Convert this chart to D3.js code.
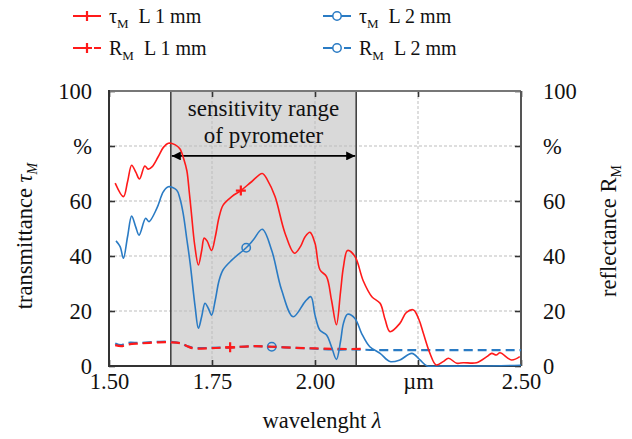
<!DOCTYPE html>
<html>
<head>
<meta charset="utf-8">
<script src="https://cdn.jsdelivr.net/npm/d3@7"></script>
<style>
body{margin:0;background:#fff;}
svg{display:block;}
svg text{font-family:"Liberation Serif",Tinos,"Times New Roman",Times,"DejaVu Serif",serif;}
</style>
</head>
<body>
<svg id="chart"></svg>
<script>
// transmittance, sample L = 1 mm (red)
var tauL1Wave = [1.515,1.535,1.545,1.555,1.565,1.574,1.587,1.595,1.605,1.619,1.632,1.644,1.66,1.672,1.682,1.689,1.695,1.70,1.708,1.717,1.725,1.731,1.738,1.749,1.758,1.767,1.777,1.798,1.82,1.846,1.872,1.885,1.903,1.927,1.95,1.965,1.976,1.988,2.0,2.012,2.028,2.04,2.052,2.062,2.069,2.079,2.097,2.117,2.138,2.158,2.17,2.182,2.206,2.222,2.239,2.252,2.263,2.279,2.294,2.311,2.324,2.344,2.36,2.392,2.417,2.429,2.44,2.449,2.477,2.497];
var tauL1 = [66.5,61.6,67,73,70.5,68,72.7,71.6,72.5,76,79.5,81,80.5,79,75,71,63,55.6,44,36.7,42,46.5,45.5,42,47,54,58.5,61.6,63.8,67,70,67.5,61.6,48.4,41,43.5,47,48.6,44.6,35,32.5,24,15,27,36,42,39.8,31,25.2,22.8,17,12.5,15.5,19.5,20.4,17,11.9,4.6,0.4,1.6,2.8,1,1.2,1.2,3.4,4.6,4,4.8,2.2,3.4];

// transmittance, sample L = 2 mm (blue)
var tauL2Wave = [1.517,1.527,1.535,1.545,1.555,1.565,1.573,1.589,1.597,1.616,1.632,1.644,1.664,1.672,1.68,1.689,1.697,1.709,1.717,1.725,1.733,1.741,1.749,1.758,1.767,1.777,1.798,1.833,1.85,1.872,1.895,1.919,1.947,1.976,1.99,2.0,2.012,2.028,2.04,2.052,2.062,2.069,2.079,2.097,2.113,2.133,2.158,2.182,2.206,2.235,2.255,2.271,2.30,2.40,2.50];
var tauL2 = [45.5,43.4,39.2,47,54.5,50.5,47.6,53.7,52.5,57.3,63.4,65.2,64,61,55.5,46,37.3,21.6,13.7,18,22.8,21,18.5,24,31,35,38.5,43,45.8,49.7,42,27.6,17.9,23.4,25.2,18.5,13,11.3,7,2.4,9,15.5,18.8,17.3,11.9,7,4.6,1.6,2.2,4.6,2.2,0.1,0,0,0.3];

// reflectance
var refL1Wave = [1.515,1.53,1.545,1.575,1.62,1.65,1.675,1.69,1.705,1.75,1.794,1.85,1.895,1.95,2.0,2.05,2.12];
var refL1 = [7.6,7.2,7.8,8.2,8.6,8.6,8.2,7.2,6.4,6.5,6.8,7.2,7.0,6.6,6.4,6.2,6.2];
var refL2Wave = [1.515,1.53,1.545,1.575,1.62,1.65,1.675,1.69,1.705,1.75,1.8,1.85,1.895,1.95,2.0,2.05,2.10,2.15,2.50];
var refL2 = [8.2,7.6,8.4,8.4,8.8,8.8,8.2,7.2,6.6,6.6,6.8,7.2,7.0,6.6,6.3,6.0,6.0,5.8,5.8];

var xTicks = [1.50,1.75,2.00,2.25,2.50];
var xTickLabels = ["1.50","1.75","2.00","\u00b5m","2.50"];
var yTicks = [0,20,40,60,80,100];
var yTickLabels = ["0","20","40","60","%","100"];

var sensRange = [1.65,2.10];
var arrowLevel = 76.4;

var red = "#ff1a1a", blue = "#2a7bc4";
var serif = "'Liberation Serif',Tinos,'Times New Roman',Times,'DejaVu Serif',serif";

var series = [
    {wave:refL2Wave, val:refL2, color:blue, dash:"9,5", marker:"o", markAt:1.895},
    {wave:refL1Wave, val:refL1, color:red, dash:"9,5", marker:"+", markAt:1.794},
    {wave:tauL2Wave, val:tauL2, color:blue, dash:null, marker:"o", markAt:1.833},
    {wave:tauL1Wave, val:tauL1, color:red, dash:null, marker:"+", markAt:1.82}
];

var screen = {width:632, height:439};
var margin = {left:109, right:111, top:91, bottom:73};

var svg = d3.select("#chart")
    .attr("width", screen.width)
    .attr("height", screen.height)
    .attr("font-family", serif);

var xScale = d3.scaleLinear()
    .domain([1.5,2.5])
    .range([margin.left, screen.width - margin.right]);

var yScale = d3.scaleLinear()
    .domain([0,100])
    .range([screen.height - margin.bottom, margin.top]);

var x0 = xScale.range()[0], x1 = xScale.range()[1];
var yb = yScale.range()[0], yt = yScale.range()[1];

// grey band of pyrometer sensitivity
svg.append("rect")
    .attr("x", xScale(sensRange[0]))
    .attr("y", yt)
    .attr("width", xScale(sensRange[1]) - xScale(sensRange[0]))
    .attr("height", yb - yt)
    .attr("fill", "#d9d9d9");

// grid
svg.append("g").selectAll("line")
    .data(yTicks.slice(1, -1))
    .enter().append("line")
    .attr("x1", x0).attr("x2", x1)
    .attr("y1", function(d){ return yScale(d); })
    .attr("y2", function(d){ return yScale(d); })
    .attr("stroke", "#bdbdbd").attr("stroke-width", 1)
    .attr("stroke-dasharray", "3,2");

svg.append("g").selectAll("line")
    .data(xTicks.slice(1, -1))
    .enter().append("line")
    .attr("y1", yt).attr("y2", yb)
    .attr("x1", function(d){ return xScale(d); })
    .attr("x2", function(d){ return xScale(d); })
    .attr("stroke", "#bdbdbd").attr("stroke-width", 1)
    .attr("stroke-dasharray", "3,2");

// band edges
svg.append("g").selectAll("line")
    .data(sensRange)
    .enter().append("line")
    .attr("y1", yt).attr("y2", yb)
    .attr("x1", function(d){ return xScale(d); })
    .attr("x2", function(d){ return xScale(d); })
    .attr("stroke", "#444").attr("stroke-width", 1.6);

// axes
var fmtY = function(d){ return yTickLabels[yTicks.indexOf(d)]; };
var fmtX = function(d){ return xTickLabels[xTicks.indexOf(d)]; };

var styleAxis = function(g){
    g.attr("font-family", serif).attr("font-size", 22.5);
    g.select(".domain").remove();
    g.selectAll(".tick line").attr("stroke", "#333").attr("stroke-width", 1.6);
    g.selectAll(".tick text").attr("fill", "#111");
};

svg.append("g")
    .attr("transform", "translate(" + x0 + ",0)")
    .call(d3.axisLeft(yScale).tickValues(yTicks).tickFormat(fmtY).tickSize(-6).tickPadding(17))
    .call(styleAxis);

svg.append("g")
    .attr("transform", "translate(" + x1 + ",0)")
    .call(d3.axisRight(yScale).tickValues(yTicks).tickFormat(fmtY).tickSize(-6).tickPadding(22))
    .call(styleAxis);

svg.append("g")
    .attr("transform", "translate(0," + yb + ")")
    .call(d3.axisBottom(xScale).tickValues(xTicks).tickFormat(fmtX).tickSize(-6).tickPadding(7))
    .call(styleAxis);

svg.append("g")
    .attr("transform", "translate(0," + yt + ")")
    .call(d3.axisTop(xScale).tickValues(xTicks).tickFormat("").tickSize(-6))
    .call(styleAxis);

// frame
svg.append("line").attr("x1", x0).attr("x2", x1).attr("y1", yt).attr("y2", yt)
    .attr("stroke", "#777").attr("stroke-width", 2);
svg.append("line").attr("x1", x1).attr("x2", x1).attr("y1", yt).attr("y2", yb)
    .attr("stroke", "#555").attr("stroke-width", 2);
svg.append("line").attr("x1", x0).attr("x2", x0).attr("y1", yt - 1).attr("y2", yb + 1)
    .attr("stroke", "#333").attr("stroke-width", 2);
svg.append("line").attr("x1", x0).attr("x2", x1).attr("y1", yb).attr("y2", yb)
    .attr("stroke", "#333").attr("stroke-width", 2);

// arrow
var defs = svg.append("defs");
defs.append("marker").attr("id", "ahEnd")
    .attr("viewBox", "0 0 10 10").attr("refX", 10).attr("refY", 5)
    .attr("markerWidth", 13).attr("markerHeight", 9).attr("markerUnits", "userSpaceOnUse")
    .attr("orient", "auto")
    .append("path").attr("d", "M0,0 L10,5 L0,10 z").attr("fill", "#000");
defs.append("marker").attr("id", "ahStart")
    .attr("viewBox", "0 0 10 10").attr("refX", 0).attr("refY", 5)
    .attr("markerWidth", 13).attr("markerHeight", 9).attr("markerUnits", "userSpaceOnUse")
    .attr("orient", "auto")
    .append("path").attr("d", "M10,0 L0,5 L10,10 z").attr("fill", "#000");

svg.append("line")
    .attr("x1", xScale(sensRange[0]) + 1).attr("x2", xScale(sensRange[1]) - 1)
    .attr("y1", yScale(arrowLevel)).attr("y2", yScale(arrowLevel))
    .attr("stroke", "#000").attr("stroke-width", 1.6)
    .attr("marker-start", "url(#ahStart)").attr("marker-end", "url(#ahEnd)");

var midBand = (xScale(sensRange[0]) + xScale(sensRange[1])) / 2;
svg.append("text").attr("x", midBand).attr("y", 116)
    .attr("text-anchor", "middle").attr("font-size", 23).attr("fill", "#111")
    .text("sensitivity range");
svg.append("text").attr("x", midBand).attr("y", 143)
    .attr("text-anchor", "middle").attr("font-size", 23).attr("fill", "#111")
    .text("of pyrometer");

// curves
var line = d3.line()
    .x(function(d){ return xScale(d[0]); })
    .y(function(d){ return yScale(d[1]); })
    .curve(d3.curveCatmullRom.alpha(0.5));

var drawMarker = function(g, type, cx, cy, color, fill){
    if (type === "+") {
        g.append("path")
            .attr("d", "M" + (cx - 5) + "," + cy + "H" + (cx + 5) + "M" + cx + "," + (cy - 5) + "V" + (cy + 5))
            .attr("stroke", color).attr("stroke-width", 2.2).attr("fill", "none");
    } else {
        g.append("circle").attr("cx", cx).attr("cy", cy).attr("r", 4.2)
            .attr("stroke", color).attr("stroke-width", 1.5).attr("fill", fill);
    }
};

series.forEach(function(s){
    var pts = s.wave.map(function(w, i){ return [w, s.val[i]]; });
    var path = svg.append("path")
        .attr("d", line(pts))
        .attr("fill", "none")
        .attr("stroke", s.color)
        .attr("stroke-width", s.dash ? 2.2 : 1.6);
    if (s.dash) path.attr("stroke-dasharray", s.dash);
    var k = s.wave.indexOf(s.markAt);
    drawMarker(svg, s.marker, xScale(s.wave[k]), yScale(s.val[k]), s.color, "none");
});

// legend
var legendItems = [
    {sym:"\u03c4", label:"L 1 mm", color:red, dash:null, marker:"+", col:0, row:0},
    {sym:"R", label:"L 1 mm", color:red, dash:"10,5,3,3", marker:"+", col:0, row:1},
    {sym:"\u03c4", label:"L 2 mm", color:blue, dash:null, marker:"o", col:1, row:0},
    {sym:"R", label:"L 2 mm", color:blue, dash:"10,5,3,3", marker:"o", col:1, row:1}
];
var legendCols = [73, 323];
var legendRows = [16, 48];

legendItems.forEach(function(it){
    var lx = legendCols[it.col], ly = legendRows[it.row];
    var ln = svg.append("line").attr("x1", lx).attr("x2", lx + 28).attr("y1", ly).attr("y2", ly)
        .attr("stroke", it.color).attr("stroke-width", 2);
    if (it.dash) ln.attr("stroke-dasharray", it.dash);
    drawMarker(svg, it.marker, lx + 14, ly, it.color, "#fff");
    var t = svg.append("text").attr("x", lx + 36).attr("y", ly + 7)
        .attr("font-size", 20).attr("fill", "#111");
    t.append("tspan").text(it.sym);
    t.append("tspan").attr("dy", 5).attr("font-size", 13).text("M");
    t.append("tspan").attr("dy", -5).text("\u00a0\u00a0" + it.label);
});

// axis titles
var lt = svg.append("text")
    .attr("transform", "translate(32,236) rotate(-90)")
    .attr("text-anchor", "middle").attr("font-size", 22.5).attr("fill", "#111");
lt.append("tspan").text("transmittance ");
lt.append("tspan").attr("font-style", "italic").text("\u03c4");
lt.append("tspan").attr("dy", 5).attr("font-style", "italic").attr("font-size", 14).text("M");

var rt = svg.append("text")
    .attr("transform", "translate(616,231) rotate(-90)")
    .attr("text-anchor", "middle").attr("font-size", 22.5).attr("fill", "#111");
rt.append("tspan").text("reflectance R");
rt.append("tspan").attr("dy", 5).attr("font-size", 14).text("M");

var bt = svg.append("text")
    .attr("x", 322).attr("y", 428)
    .attr("text-anchor", "middle").attr("font-size", 22.5).attr("fill", "#111");
bt.append("tspan").text("wavelenght ");
bt.append("tspan").attr("font-style", "italic").text("\u03bb");
</script>
</body>
</html>
